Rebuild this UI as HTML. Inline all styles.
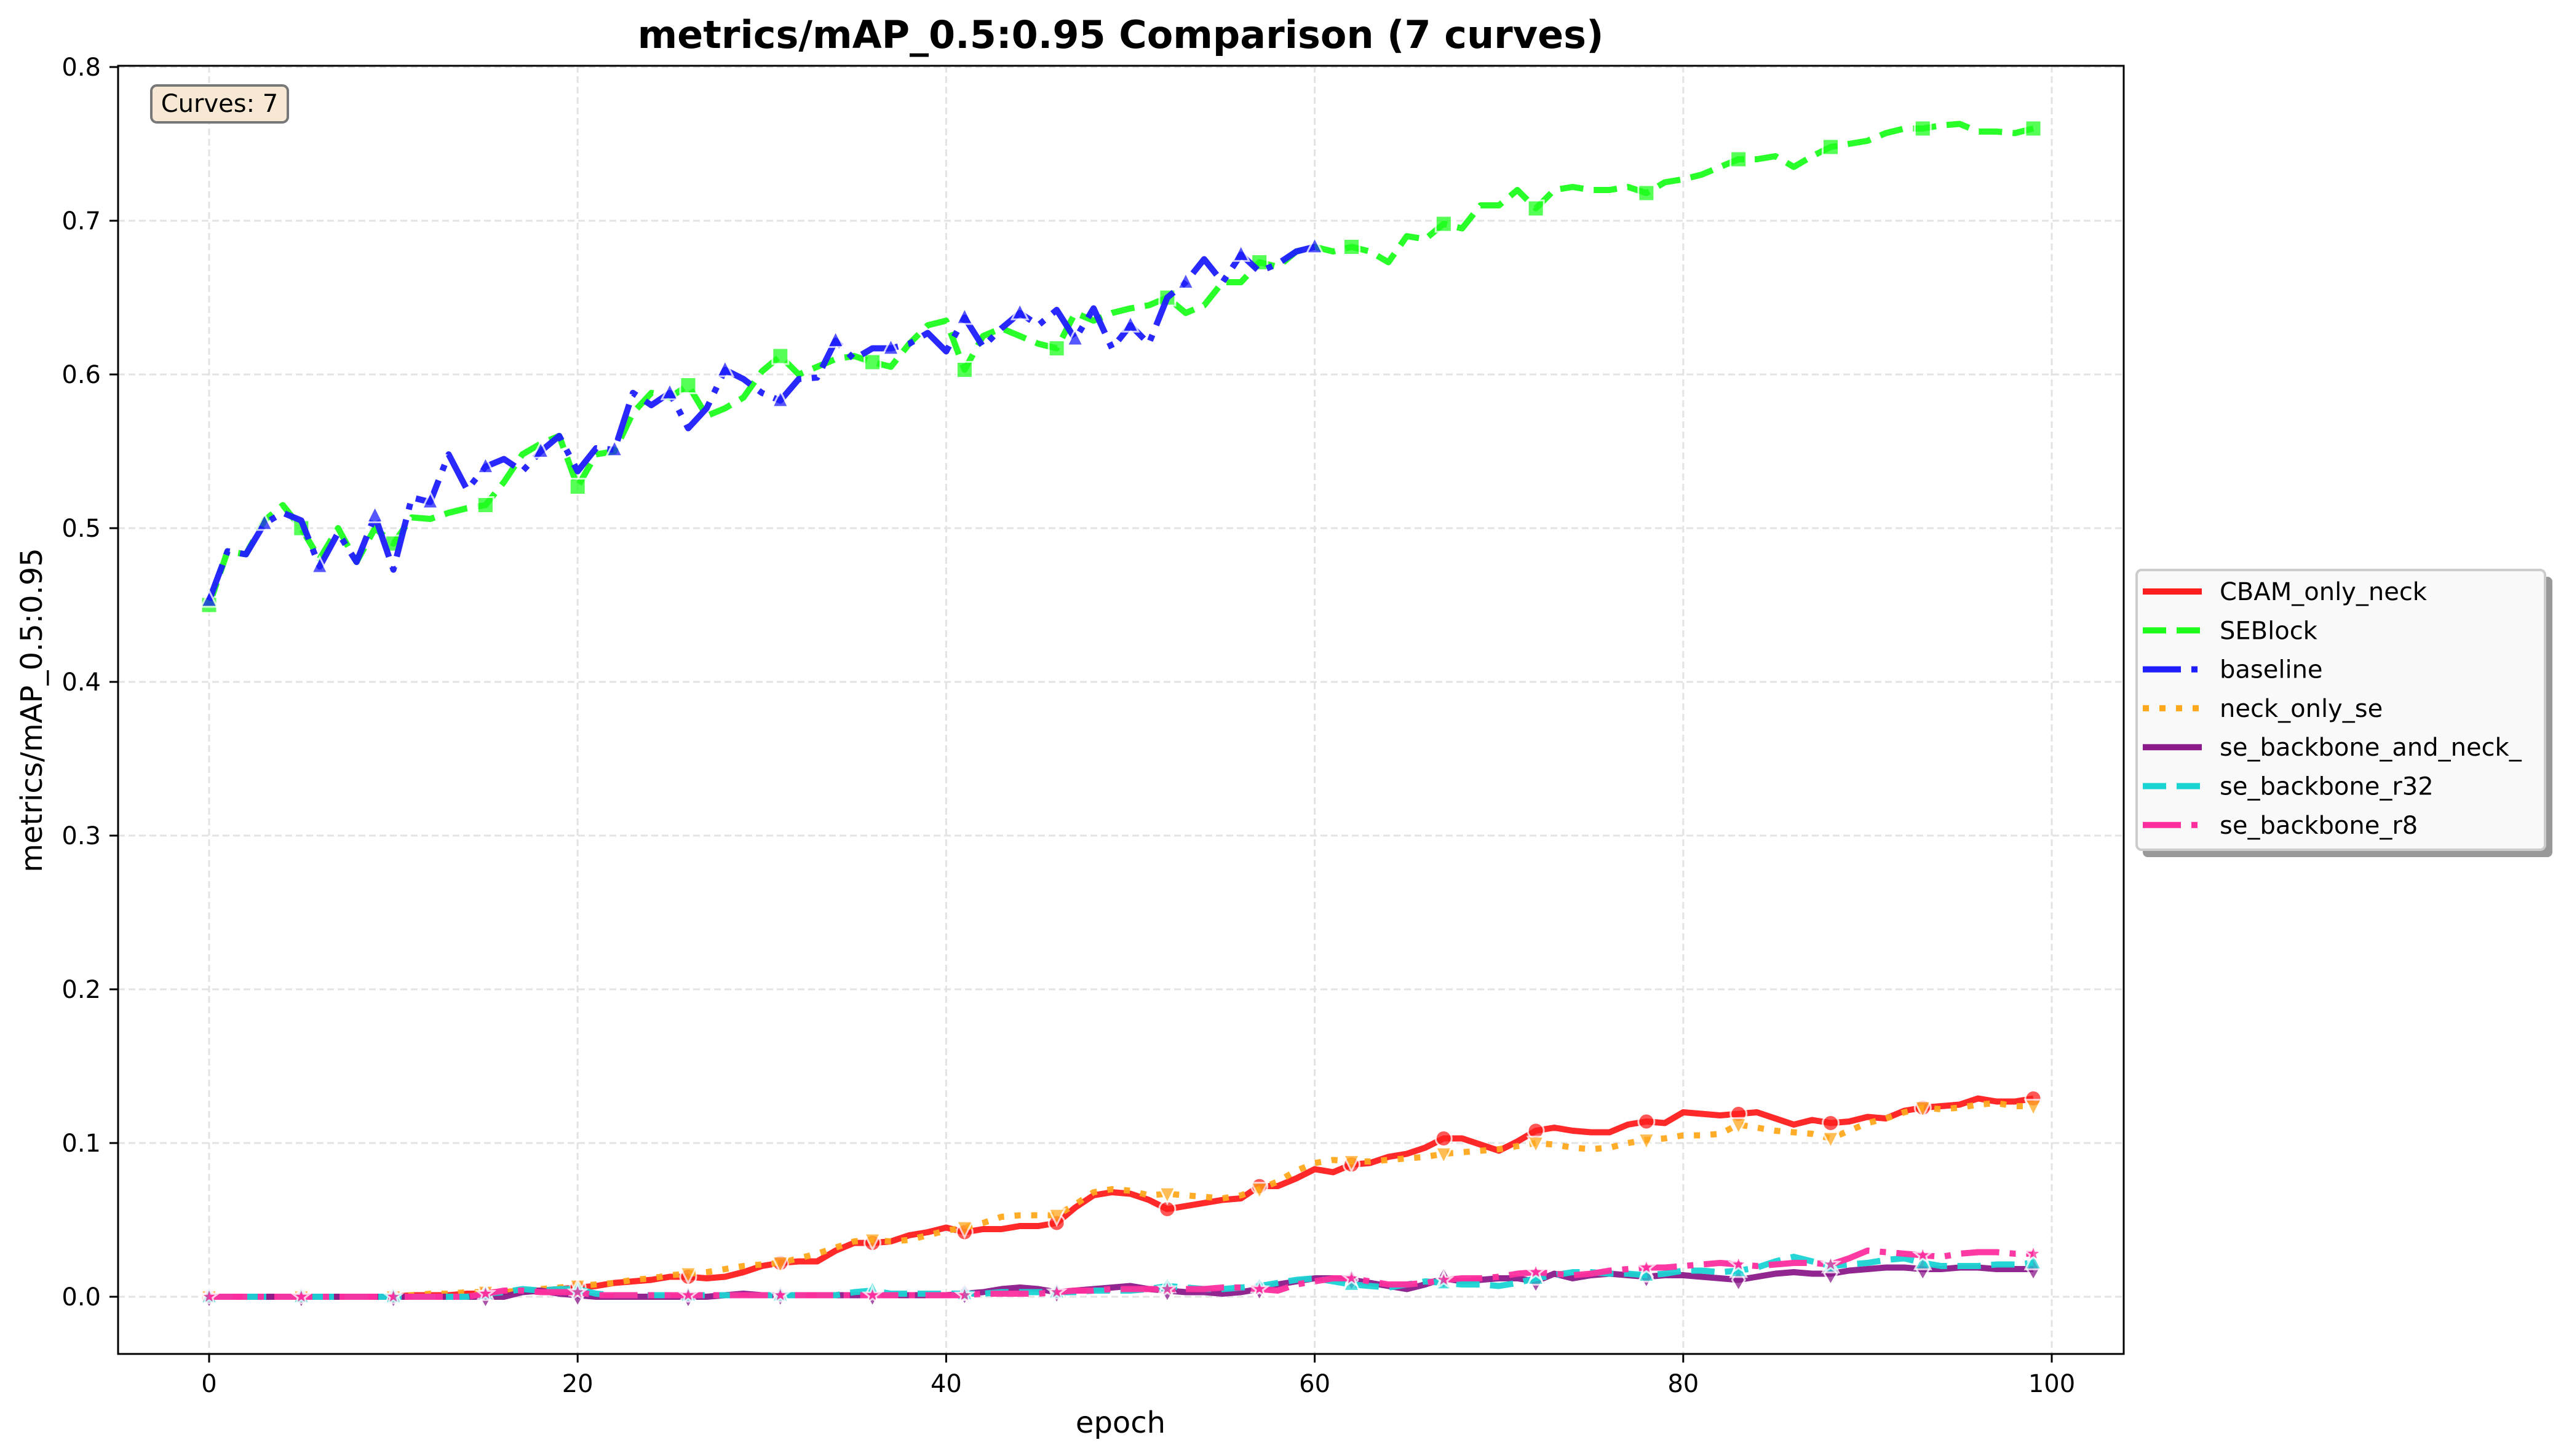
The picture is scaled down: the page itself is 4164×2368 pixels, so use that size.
<!DOCTYPE html>
<html><head><meta charset="utf-8"><style>
html,body{margin:0;padding:0;background:#fff;}
svg{display:block;font-family:"DejaVu Sans","Liberation Sans",sans-serif;}
</style></head><body>
<svg id="chart" width="4164" height="2368" viewBox="0 0 4164 2368" xmlns="http://www.w3.org/2000/svg">
<rect width="4164" height="2368" fill="#fff"/>
<text x="1822" y="78" font-size="62" font-weight="bold" text-anchor="middle">metrics/mAP_0.5:0.95 Comparison (7 curves)</text>
<g id="grid"></g>
<g id="series"></g>
<rect x="192" y="107" width="3261" height="2095" fill="none" stroke="#000" stroke-width="3"/>
<g id="ticks"></g>
<text x="1822" y="2330" font-size="48" text-anchor="middle">epoch</text>
<text transform="translate(68,1155) rotate(-90)" font-size="48" text-anchor="middle">metrics/mAP_0.5:0.95</text>
<g>
<rect x="246" y="139" width="222" height="60" rx="9" fill="#f6e8d2" stroke="#777" stroke-width="4"/>
<text x="357" y="182" font-size="40" text-anchor="middle">Curves: 7</text>
</g>
<g id="legend">
<rect x="3484" y="938" width="666" height="456" rx="8" fill="#999"/>
<rect x="3474" y="927" width="664" height="455" rx="8" fill="#f9f9f9" stroke="#ccc" stroke-width="4"/>
</g>
</svg>
<script>
const epochs = Array.from({length:100},(_,i)=>i);
const seriesNames = ["CBAM_only_neck","SEBlock","baseline","neck_only_se","se_backbone_and_neck_","se_backbone_r32","se_backbone_r8"];
const cbamValues = [0,0,0,0,0,0,0,0,0,0,0,0.001,0.001,0.001,0.002,0.002,0.003,0.004,0.004,0.005,0.006,0.007,0.009,0.01,0.011,0.013,0.013,0.012,0.013,0.016,0.02,0.022,0.023,0.023,0.03,0.035,0.035,0.036,0.04,0.042,0.045,0.042,0.044,0.044,0.046,0.046,0.048,0.058,0.066,0.068,0.067,0.063,0.057,0.059,0.061,0.063,0.064,0.072,0.072,0.077,0.083,0.081,0.086,0.087,0.091,0.093,0.097,0.103,0.103,0.099,0.095,0.101,0.108,0.11,0.108,0.107,0.107,0.112,0.114,0.113,0.12,0.119,0.118,0.119,0.12,0.116,0.112,0.115,0.113,0.114,0.117,0.116,0.121,0.123,0.124,0.125,0.129,0.127,0.127,0.129];
const seblockValues = [0.45,0.485,0.483,0.505,0.515,0.5,0.48,0.5,0.478,0.5,0.49,0.507,0.506,0.51,0.513,0.515,0.53,0.548,0.555,0.56,0.527,0.548,0.55,0.575,0.588,0.585,0.593,0.573,0.578,0.585,0.602,0.612,0.6,0.605,0.61,0.612,0.608,0.605,0.62,0.632,0.635,0.603,0.625,0.63,0.625,0.62,0.617,0.64,0.635,0.64,0.643,0.645,0.65,0.64,0.645,0.66,0.66,0.673,0.67,0.68,0.683,0.68,0.683,0.68,0.673,0.69,0.688,0.698,0.695,0.71,0.71,0.72,0.708,0.72,0.722,0.72,0.72,0.722,0.718,0.725,0.727,0.73,0.735,0.74,0.74,0.742,0.735,0.742,0.748,0.75,0.752,0.757,0.76,0.76,0.762,0.763,0.758,0.758,0.757,0.76];
const baselineValues = [0.453,0.485,0.483,0.503,0.51,0.505,0.475,0.497,0.478,0.508,0.473,0.52,0.517,0.548,0.525,0.54,0.545,0.537,0.55,0.56,0.537,0.552,0.551,0.588,0.58,0.588,0.565,0.578,0.603,0.597,0.588,0.583,0.597,0.598,0.622,0.61,0.617,0.617,0.62,0.627,0.615,0.637,0.618,0.63,0.64,0.632,0.642,0.623,0.643,0.617,0.632,0.62,0.65,0.66,0.675,0.66,0.678,0.667,0.672,0.68,0.683];
const neckOnlySeValues = [0,0,0,0,0,0,0,0,0,0,0,0.001,0.002,0.002,0.003,0.003,0.003,0.004,0.005,0.006,0.007,0.008,0.009,0.011,0.012,0.014,0.015,0.016,0.018,0.02,0.021,0.022,0.025,0.028,0.032,0.036,0.037,0.036,0.037,0.04,0.043,0.045,0.048,0.052,0.053,0.053,0.053,0.06,0.068,0.07,0.069,0.066,0.067,0.066,0.065,0.064,0.066,0.07,0.075,0.082,0.087,0.089,0.088,0.088,0.089,0.09,0.091,0.093,0.094,0.095,0.096,0.098,0.1,0.099,0.097,0.096,0.097,0.1,0.102,0.103,0.105,0.105,0.106,0.112,0.11,0.108,0.107,0.106,0.103,0.108,0.113,0.116,0.12,0.123,0.122,0.123,0.125,0.126,0.124,0.124];
const seBackboneNeckValues = [0,0,0,0,0,0,0,0,0,0,0,0,0,0,0,0,0,0.003,0.004,0.002,0.001,0,0,0,0,0,0,0,0.001,0.002,0.001,0.001,0.001,0.001,0.001,0.001,0.001,0.001,0.001,0.001,0.001,0.002,0.003,0.005,0.006,0.005,0.003,0.004,0.005,0.006,0.007,0.005,0.004,0.003,0.003,0.002,0.003,0.005,0.008,0.01,0.012,0.012,0.011,0.009,0.007,0.005,0.008,0.012,0.01,0.011,0.012,0.012,0.01,0.015,0.012,0.014,0.015,0.014,0.013,0.014,0.014,0.013,0.012,0.011,0.013,0.015,0.016,0.015,0.015,0.017,0.018,0.019,0.019,0.018,0.018,0.019,0.019,0.018,0.018,0.018];
const seR32Values = [0,0,0,0,0,0,0,0,0,0,0,0,0,0,0,0.002,0.003,0.005,0.004,0.005,0.005,0.002,0.001,0.001,0.001,0.001,0.001,0.001,0.001,0.001,0.001,0.001,0.001,0.001,0.001,0.003,0.004,0.002,0.002,0.002,0.002,0.002,0.002,0.003,0.003,0.003,0.003,0.003,0.004,0.004,0.004,0.005,0.007,0.006,0.005,0.005,0.006,0.007,0.009,0.011,0.012,0.01,0.008,0.007,0.006,0.008,0.01,0.009,0.008,0.008,0.007,0.009,0.012,0.014,0.016,0.016,0.015,0.015,0.014,0.015,0.017,0.017,0.016,0.017,0.019,0.023,0.026,0.023,0.02,0.021,0.022,0.024,0.025,0.022,0.02,0.02,0.02,0.021,0.021,0.022];
const seR8Values = [0,0,0,0,0,0,0,0,0,0,0,0,0,0,0,0.002,0.004,0.004,0.003,0.003,0.003,0.001,0.001,0.001,0.001,0.001,0.001,0.001,0.001,0.001,0.001,0.001,0.001,0.001,0.001,0.001,0.001,0.001,0.001,0.001,0.001,0.001,0.002,0.002,0.002,0.002,0.003,0.004,0.004,0.005,0.005,0.005,0.005,0.005,0.005,0.006,0.006,0.005,0.004,0.008,0.01,0.012,0.012,0.01,0.008,0.008,0.009,0.011,0.012,0.012,0.013,0.015,0.016,0.015,0.014,0.015,0.017,0.018,0.019,0.019,0.02,0.021,0.022,0.021,0.02,0.021,0.022,0.022,0.021,0.025,0.03,0.029,0.028,0.027,0.026,0.028,0.029,0.029,0.028,0.028];
const xTicks = [0,20,40,60,80,100];
const yTicks = [0.0,0.1,0.2,0.3,0.4,0.5,0.6,0.7,0.8];
const yTickLabels = ["0.0","0.1","0.2","0.3","0.4","0.5","0.6","0.7","0.8"];

const NS="http://www.w3.org/2000/svg";
const X0=340, XS=29.96, Y0=2109, YS=2500;
function xScale(e){return X0+e*XS;}
function yScale(v){return Y0-v*YS;}
function mk(tag,attrs,parent){const el=document.createElementNS(NS,tag);for(const k in attrs)el.setAttribute(k,attrs[k]);parent.appendChild(el);return el;}

const grid=document.getElementById('grid'), ticks=document.getElementById('ticks');
xTicks.forEach(t=>{
  const g=mk('line',{x1:xScale(t),x2:xScale(t),y1:107,y2:2202,stroke:'#e3e3e3','stroke-width':3,'stroke-dasharray':'11,6'},grid);
  
  
  const tk=mk('line',{x1:xScale(t),x2:xScale(t),y1:2202,y2:2216,stroke:'#000','stroke-width':3},ticks);
  
  
  const tl=mk('text',{x:xScale(t),y:2264,'font-size':40,'text-anchor':'middle'},ticks);
  tl.textContent=String(t);
  
  
});
yTicks.forEach((t,i)=>{
  const g=mk('line',{x1:192,x2:3453,y1:yScale(t),y2:yScale(t),stroke:'#e3e3e3','stroke-width':3,'stroke-dasharray':'11,6'},grid);
  
  
  const tk=mk('line',{x1:178,x2:192,y1:yScale(t),y2:yScale(t),stroke:'#000','stroke-width':3},ticks);
  
  
  const tl=mk('text',{x:164,y:yScale(t)+14,'font-size':40,'text-anchor':'end'},ticks);
  tl.textContent=yTickLabels[i];
  
  
});

const styles=[
 {vals:cbamValues,color:'#ff1e1e',dash:'',marker:'circle'},
 {vals:seblockValues,color:'#1eff1e',dash:'38,17',marker:'square'},
 {vals:baselineValues,color:'#1e1eff',dash:'62,17,10,17',marker:'triup'},
 {vals:neckOnlySeValues,color:'#ffa81e',dash:'10,17',marker:'tridown'},
 {vals:seBackboneNeckValues,color:'#8b1a8b',dash:'',marker:'diamond'},
 {vals:seR32Values,color:'#1ad3d3',dash:'38,17',marker:'triup'},
 {vals:seR8Values,color:'#ff2e9e',dash:'62,17,10,17',marker:'star'}
];
const series=document.getElementById('series');
function markerPath(type,x,y,r){
  switch(type){
    case 'square': return `M${x-r},${y-r}h${2*r}v${2*r}h${-2*r}z`;
    case 'triup': return `M${x},${y-r*1.2}L${x+r},${y+r*0.8}L${x-r},${y+r*0.8}z`;
    case 'tridown': return `M${x},${y+r*1.2}L${x+r},${y-r*0.8}L${x-r},${y-r*0.8}z`;
    case 'diamond': return `M${x},${y-r*1.4}L${x+r*0.8},${y}L${x},${y+r*1.4}L${x-r*0.8},${y}z`;
    case 'star': {let d='';for(let k=0;k<10;k++){const a=-Math.PI/2+k*Math.PI/5;const rr=k%2?r*0.45:r*1.1;d+=(k?'L':'M')+(x+rr*Math.cos(a))+','+(y+rr*Math.sin(a));}return d+'z';}
    default: return `M${x-r},${y}a${r},${r} 0 1,0 ${2*r},0a${r},${r} 0 1,0 ${-2*r},0z`;
  }
}
styles.forEach((s,si)=>{
  const g=mk('g',{},series);
  
  
  const pts=s.vals.map((v,i)=>xScale(epochs[i])+','+yScale(v)).join(' ');
  const pl=mk('polyline',{points:pts,fill:'none',stroke:s.color,'stroke-width':10,'stroke-linejoin':'round','stroke-dasharray':s.dash,opacity:0.95},g);
  
  
  const n=s.vals.length;
  for(let k=0;k<20;k++){
    const i=Math.floor(k*(n-1)/19);
    const m=mk('path',{d:markerPath(s.marker,xScale(epochs[i]),yScale(s.vals[i]),13),fill:s.color,stroke:'#fff','stroke-width':3,opacity:0.75},g);
    
    
  }
});
const legend=document.getElementById('legend');
styles.forEach((s,si)=>{
  const y=962+si*63.3;
  const ln=mk('line',{x1:3484,x2:3580,y1:y,y2:y,stroke:s.color,'stroke-width':10,'stroke-dasharray':s.dash},legend);
  
  
  const t=mk('text',{x:3609,y:y+14,'font-size':40},legend);
  t.textContent=seriesNames[si];
  
  
});
</script>
</body></html>
